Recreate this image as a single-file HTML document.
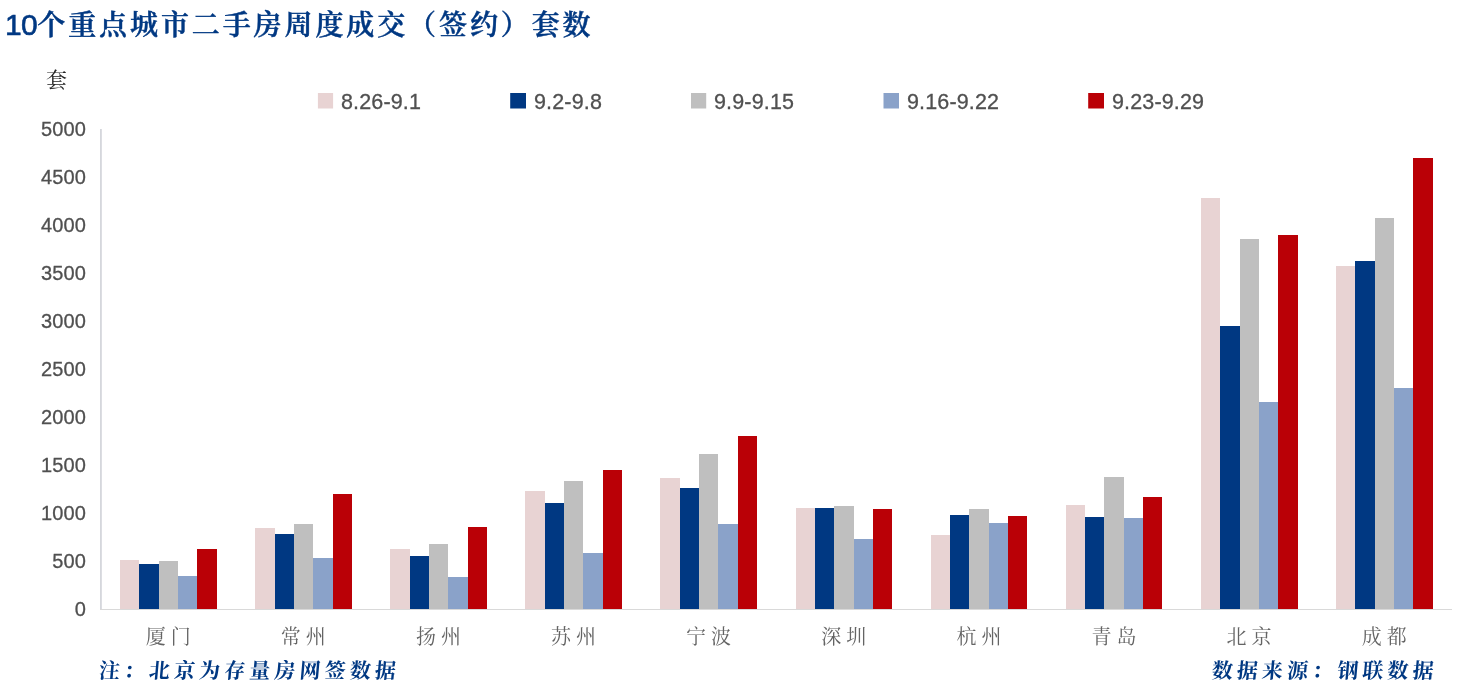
<!DOCTYPE html>
<html lang="zh-CN">
<head>
<meta charset="utf-8">
<title>10个重点城市二手房周度成交（签约）套数</title>
<style>
html,body{margin:0;padding:0;background:#fff;}
body{width:1466px;height:684px;position:relative;overflow:hidden;font-family:"Liberation Sans","Noto Sans CJK SC",sans-serif;}
.plot{position:absolute;left:0;top:0;}
.title{position:absolute;left:5px;top:5px;height:40px;line-height:40px;white-space:nowrap;color:#003882;font-family:"Liberation Sans","Noto Serif CJK SC",serif;font-weight:600;font-size:28px;letter-spacing:2.9px;-webkit-text-stroke:0.45px #003882;}
.title .n{font-size:30px;font-weight:normal;-webkit-text-stroke:0.6px #003882;letter-spacing:-0.8px;margin-right:0.5px;}
.unit{position:absolute;left:46px;top:66px;width:22px;height:28px;line-height:28px;font-family:"Liberation Serif","Noto Serif CJK SC",serif;font-size:21px;color:#222;}
.tick{position:absolute;left:0;width:86px;height:24px;line-height:24px;text-align:right;font-size:20px;color:#505050;letter-spacing:0.15px;-webkit-text-stroke:0.3px #505050;}
.cat{position:absolute;top:623px;width:120px;height:28px;line-height:28px;text-align:center;white-space:pre;font-family:"Liberation Serif","Noto Serif CJK SC",serif;font-size:20px;color:#646464;font-weight:400;}
.leg{position:absolute;top:90px;height:24px;line-height:24px;font-size:21.5px;color:#505050;white-space:nowrap;letter-spacing:0.15px;-webkit-text-stroke:0.3px #505050;}
.note{position:absolute;top:656px;height:30px;line-height:30px;white-space:nowrap;color:#003882;font-family:"Liberation Serif","Noto Serif CJK SC",serif;font-weight:bold;font-size:21px;letter-spacing:4.1px;transform:skewX(-5deg);transform-origin:0 24px;}
</style>
</head>
<body>
<svg class="plot" width="1466" height="684" viewBox="0 0 1466 684" shape-rendering="crispEdges">
<rect x="100" y="129" width="1" height="481" fill="#D5D7DC"/><rect x="101" y="129" width="1" height="481" fill="#DCDDE2"/>
<rect x="100" y="609" width="1352" height="1" fill="#D9D9D9"/>
<rect x="120" y="560" width="19" height="49" fill="#E8D3D3"/>
<rect x="139" y="564" width="20" height="45" fill="#003882"/>
<rect x="159" y="561" width="19" height="48" fill="#BFBFBF"/>
<rect x="178" y="576" width="19" height="33" fill="#8AA2C9"/>
<rect x="197" y="549" width="20" height="60" fill="#BA0006"/>
<rect x="255" y="528" width="20" height="81" fill="#E8D3D3"/>
<rect x="275" y="534" width="19" height="75" fill="#003882"/>
<rect x="294" y="524" width="19" height="85" fill="#BFBFBF"/>
<rect x="313" y="558" width="20" height="51" fill="#8AA2C9"/>
<rect x="333" y="494" width="19" height="115" fill="#BA0006"/>
<rect x="390" y="549" width="20" height="60" fill="#E8D3D3"/>
<rect x="410" y="556" width="19" height="53" fill="#003882"/>
<rect x="429" y="544" width="19" height="65" fill="#BFBFBF"/>
<rect x="448" y="577" width="20" height="32" fill="#8AA2C9"/>
<rect x="468" y="527" width="19" height="82" fill="#BA0006"/>
<rect x="525" y="491" width="20" height="118" fill="#E8D3D3"/>
<rect x="545" y="503" width="19" height="106" fill="#003882"/>
<rect x="564" y="481" width="19" height="128" fill="#BFBFBF"/>
<rect x="583" y="553" width="20" height="56" fill="#8AA2C9"/>
<rect x="603" y="470" width="19" height="139" fill="#BA0006"/>
<rect x="660" y="478" width="20" height="131" fill="#E8D3D3"/>
<rect x="680" y="488" width="19" height="121" fill="#003882"/>
<rect x="699" y="454" width="19" height="155" fill="#BFBFBF"/>
<rect x="718" y="524" width="20" height="85" fill="#8AA2C9"/>
<rect x="738" y="436" width="19" height="173" fill="#BA0006"/>
<rect x="796" y="508" width="19" height="101" fill="#E8D3D3"/>
<rect x="815" y="508" width="19" height="101" fill="#003882"/>
<rect x="834" y="506" width="20" height="103" fill="#BFBFBF"/>
<rect x="854" y="539" width="19" height="70" fill="#8AA2C9"/>
<rect x="873" y="509" width="19" height="100" fill="#BA0006"/>
<rect x="931" y="535" width="19" height="74" fill="#E8D3D3"/>
<rect x="950" y="515" width="19" height="94" fill="#003882"/>
<rect x="969" y="509" width="20" height="100" fill="#BFBFBF"/>
<rect x="989" y="523" width="19" height="86" fill="#8AA2C9"/>
<rect x="1008" y="516" width="19" height="93" fill="#BA0006"/>
<rect x="1066" y="505" width="19" height="104" fill="#E8D3D3"/>
<rect x="1085" y="517" width="19" height="92" fill="#003882"/>
<rect x="1104" y="477" width="20" height="132" fill="#BFBFBF"/>
<rect x="1124" y="518" width="19" height="91" fill="#8AA2C9"/>
<rect x="1143" y="497" width="19" height="112" fill="#BA0006"/>
<rect x="1201" y="198" width="19" height="411" fill="#E8D3D3"/>
<rect x="1220" y="326" width="20" height="283" fill="#003882"/>
<rect x="1240" y="239" width="19" height="370" fill="#BFBFBF"/>
<rect x="1259" y="402" width="19" height="207" fill="#8AA2C9"/>
<rect x="1278" y="235" width="20" height="374" fill="#BA0006"/>
<rect x="1336" y="266" width="19" height="343" fill="#E8D3D3"/>
<rect x="1355" y="261" width="20" height="348" fill="#003882"/>
<rect x="1375" y="218" width="19" height="391" fill="#BFBFBF"/>
<rect x="1394" y="388" width="19" height="221" fill="#8AA2C9"/>
<rect x="1413" y="158" width="20" height="451" fill="#BA0006"/>
<rect x="317.9" y="93" width="15.2" height="15.5" fill="#E8D3D3" shape-rendering="geometricPrecision"/>
<rect x="510.2" y="93" width="15.8" height="15.5" fill="#003882" shape-rendering="geometricPrecision"/>
<rect x="691.0" y="93" width="15.2" height="15.5" fill="#BFBFBF" shape-rendering="geometricPrecision"/>
<rect x="883.5" y="93" width="15.5" height="15.5" fill="#8AA2C9" shape-rendering="geometricPrecision"/>
<rect x="1088.2" y="93" width="15.8" height="15.5" fill="#BA0006" shape-rendering="geometricPrecision"/>
</svg>
<div class="title"><span class="n">10</span>个重点城市二手房周度成交（签约）套数</div>
<div class="unit">套</div>
<div class="tick" style="top:117px">5000</div>
<div class="tick" style="top:165px">4500</div>
<div class="tick" style="top:213px">4000</div>
<div class="tick" style="top:261px">3500</div>
<div class="tick" style="top:309px">3000</div>
<div class="tick" style="top:357px">2500</div>
<div class="tick" style="top:405px">2000</div>
<div class="tick" style="top:453px">1500</div>
<div class="tick" style="top:501px">1000</div>
<div class="tick" style="top:549px">500</div>
<div class="tick" style="top:597px">0</div>
<div class="leg" style="left:341px">8.26-9.1</div>
<div class="leg" style="left:534px">9.2-9.8</div>
<div class="leg" style="left:714px">9.9-9.15</div>
<div class="leg" style="left:907px">9.16-9.22</div>
<div class="leg" style="left:1112px">9.23-9.29</div>
<div class="cat" style="left:108.2px">厦 门</div>
<div class="cat" style="left:243.3px">常 州</div>
<div class="cat" style="left:378.4px">扬 州</div>
<div class="cat" style="left:513.5px">苏 州</div>
<div class="cat" style="left:648.6px">宁 波</div>
<div class="cat" style="left:783.8px">深 圳</div>
<div class="cat" style="left:918.9px">杭 州</div>
<div class="cat" style="left:1054.0px">青 岛</div>
<div class="cat" style="left:1189.0px">北 京</div>
<div class="cat" style="left:1324.2px">成 都</div>
<div class="note" style="left:98px">注：北京为存量房网签数据</div>
<div class="note" style="left:1211px">数据来源：钢联数据</div>
</body>
</html>
